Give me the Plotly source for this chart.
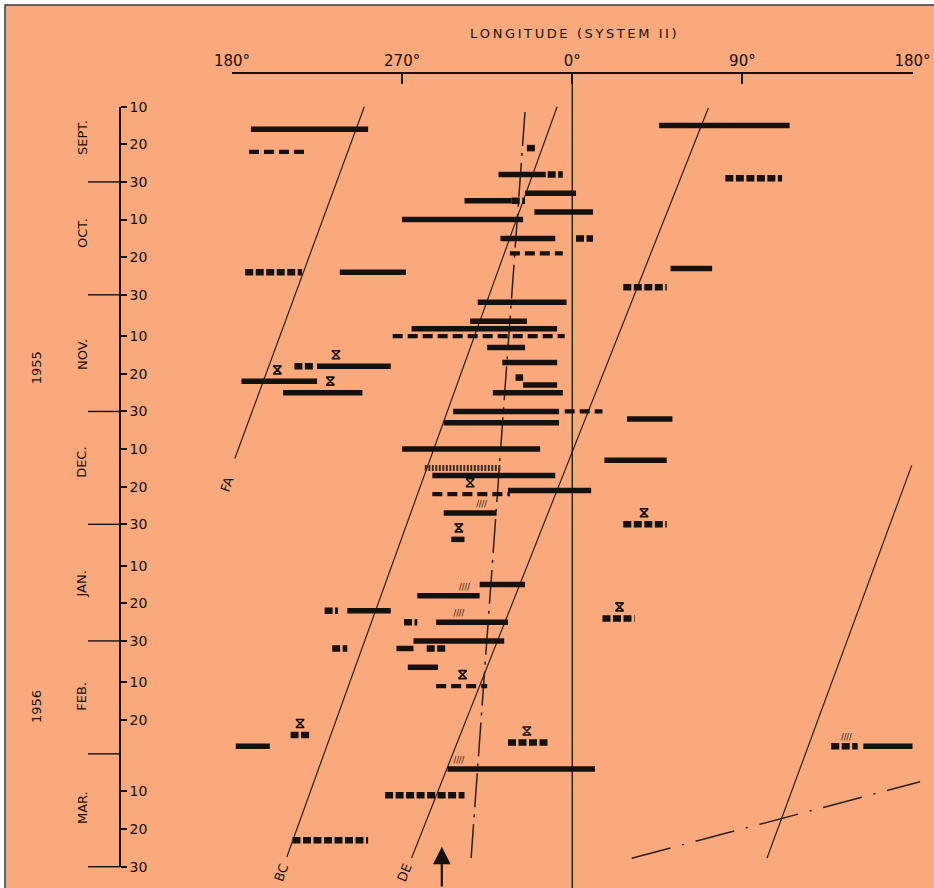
import datetime as dt
import plotly.graph_objects as go

# Longitudes (System II) are unwrapped onto one continuous scale:
# 180° -> 270° -> 0° (=360) -> 90° (=450) -> 180° (=540)

# ---- solid bars: night of observation, longitude span ----
SOLID_DATES = ["1955-09-16", "1955-09-15", "1955-09-28", "1955-10-03", "1955-10-05",
               "1955-10-08", "1955-10-10", "1955-10-15", "1955-10-23", "1955-10-24",
               "1955-11-01", "1955-11-06", "1955-11-08", "1955-11-13", "1955-11-17",
               "1955-11-18", "1955-11-22", "1955-11-23", "1955-11-25", "1955-11-25",
               "1955-11-30", "1955-12-02", "1955-12-03", "1955-12-10", "1955-12-13",
               "1955-12-17", "1955-12-21", "1955-12-27", "1956-01-03", "1956-01-15",
               "1956-01-18", "1956-01-22", "1956-01-25", "1956-01-30", "1956-02-01",
               "1956-02-06", "1956-02-27", "1956-02-27", "1956-03-04"]
SOLID_LON0 = [190, 406, 321, 335, 303, 340, 270, 322, 412, 237,
              310, 306, 275, 315, 323, 225, 185, 334, 207, 318,
              297, 389, 292, 270, 377, 286, 326, 292, 296, 311,
              278, 241, 288, 276, 267, 273, 182, 514, 294]
SOLID_LON1 = [252, 475, 346, 362, 328, 371, 334, 351, 434, 272,
              357, 336, 352, 335, 352, 264, 225, 352, 249, 355,
              353, 413, 353, 343, 410, 351, 370, 320, 303, 335,
              311, 264, 326, 324, 276, 289, 200, 540, 372]

# ---- dashed bars ----
DASH_DATES = ["1955-09-22", "1955-10-19", "1955-11-10", "1955-11-30", "1955-12-22", "1956-02-11"]
DASH_LON0 = [189, 327, 265, 356, 286, 288]
DASH_LON1 = [219, 355, 356, 376, 327, 315]

# ---- heavy dotted bars ----
DOT_DATES = ["1955-09-21", "1955-09-28", "1955-09-29", "1955-10-05", "1955-10-15",
             "1955-10-24", "1955-10-28", "1955-11-18", "1955-11-21", "1955-12-30",
             "1956-01-22", "1956-01-24", "1956-01-25", "1956-02-01", "1956-02-01",
             "1956-02-24", "1956-02-26", "1956-02-27", "1956-03-11", "1956-03-23"]
DOT_LON0 = [336, 347, 441, 328, 362, 187, 387, 213, 330, 387,
            229, 376, 271, 233, 283, 211, 326, 497, 261, 212]
DOT_LON1 = [341, 355, 471, 335, 371, 217, 410, 223, 334, 410,
            236, 393, 278, 241, 294, 221, 347, 511, 303, 252]

# ---- hatched bars ----
HATCH_DATES = ["1955-12-15"]
HATCH_LON0 = [282]
HATCH_LON1 = [322]

# ---- "X" marks above bars ----
XMARK_DATES = ["1955-11-18", "1955-11-22", "1955-11-25", "1955-12-22", "1955-12-30",
               "1956-01-03", "1956-01-24", "1956-02-11", "1956-02-24", "1956-02-26"]
XMARK_LONS = [235, 204, 232, 306, 398, 300, 385, 302, 216, 336]

# ---- small hatch tags above bars ----
TAG_DATES = ["1955-12-27", "1956-01-18", "1956-01-25", "1956-02-27", "1956-03-04"]
TAG_LONS = [312, 303, 300, 505, 300]

# ---- drift lines ----
FA_DATES, FA_LONS = ["1955-09-10", "1955-12-12 12:00"], [250, 181.5]
BC_DATES, BC_LONS = ["1955-09-10", "1956-03-27 10:00"], [352, 209]
DE_DATES, DE_LONS = ["1955-09-10 08:00", "1956-03-27 16:00"], [432, 275]
MID_DATES, MID_LONS = ["1955-09-11 10:00", "1956-03-27 16:00"], [335, 306.5]
RIGHT_DATES, RIGHT_LONS = ["1955-12-14 08:00", "1956-03-27 18:00"], [539.6, 463]
SHALLOW_DATES, SHALLOW_LONS = ["1956-03-27 18:00", "1956-03-07 10:00"], [391.5, 544]
LINE_LABELS = ["FA", "BC", "DE"]
LINE_LABEL_DATES = ["1955-12-19 12:00", "1956-03-31 16:00", "1956-03-31 16:00"]
LINE_LABEL_LONS = [177.5, 206.3, 271.5]
LINE_LABEL_ANGLES = [-70, -70, -68]
ARROW_LON, ARROW_DATE = 291, "1956-03-24 16:00"

# ---- axes ----
LON_TICKS = [180, 270, 360, 450, 540]
LON_TICK_TEXT = ["180°", "270°", "0°", "90°", "180°"]
DAY_TICKS = ["1955-09-10", "1955-09-20", "1955-09-30", "1955-10-10", "1955-10-20", "1955-10-30",
             "1955-11-10", "1955-11-20", "1955-11-30", "1955-12-10", "1955-12-20", "1955-12-30",
             "1956-01-10", "1956-01-20", "1956-01-30", "1956-02-10", "1956-02-20",
             "1956-03-10", "1956-03-20", "1956-03-30"]
DAY_TICK_TEXT = [d[-2:] for d in DAY_TICKS]
MONTH_END_TICKS = ["1955-09-30", "1955-10-30", "1955-11-30", "1955-12-30",
                   "1956-01-30", "1956-02-29", "1956-03-30"]
MONTH_NAMES = ["SEPT.", "OCT.", "NOV.", "DEC.", "JAN.", "FEB.", "MAR."]
MONTH_NAME_DATES = ["1955-09-18 08:00", "1955-10-13 14:00", "1955-11-15", "1955-12-13 16:00",
                    "1956-01-15", "1956-02-13 20:00", "1956-03-14 10:00"]
YEARS = ["1955", "1956"]
YEAR_DATES = ["1955-11-18 12:00", "1956-02-16 14:00"]
TITLE = "LONGITUDE (SYSTEM II)"

# ---- page geometry (pixels) ----
W, H = 934, 888
X_LEFT_PX, X_RIGHT_PX = 232.0, 912.5     # 180° .. 180°(540)
Y_TOP_PX, Y_BOT_PX = 106.7, 866.7        # first and last day ticks
Y_AXIS_PX = 120.0
X_AXIS_PX = 73.0
INK = "#15110e"
THIN = "#2a201a"
BG = "#faa97d"

def d(s):
    return dt.datetime.fromisoformat(s)

T0, T1 = d(DAY_TICKS[0]), d(DAY_TICKS[-1])
deg_per_px = (LON_TICKS[-1] - LON_TICKS[0]) / (X_RIGHT_PX - X_LEFT_PX)
x_range = [LON_TICKS[0] - X_LEFT_PX * deg_per_px, LON_TICKS[-1] + (W - X_RIGHT_PX) * deg_per_px]
day_per_px = (T1 - T0).total_seconds() / 86400 / (Y_BOT_PX - Y_TOP_PX)
y_top = T0 - dt.timedelta(days=Y_TOP_PX * day_per_px)
y_bot = T1 + dt.timedelta(days=(H - Y_BOT_PX) * day_per_px)

def px_days(p):
    return dt.timedelta(days=p * day_per_px)

def spaced(s):
    # thin spaces between letters for the wide lettering of the axis title
    return "\u2009".join(s)

fig = go.Figure()

def bars(dates, lon0, lon1, width, dash, color=INK):
    xs, ys = [], []
    for s, a, b in zip(dates, lon0, lon1):
        xs += [a, b, None]
        ys += [d(s), d(s), None]
    fig.add_trace(go.Scatter(x=xs, y=ys, mode="lines", connectgaps=False,
                             line=dict(color=color, width=width, dash=dash),
                             hoverinfo="skip", showlegend=False))

def line(dates, lons, dash="solid", width=1.2):
    fig.add_trace(go.Scatter(x=lons, y=[d(s) for s in dates], mode="lines",
                             line=dict(color=THIN, width=width, dash=dash),
                             hoverinfo="skip", showlegend=False))

# drift lines
line(FA_DATES, FA_LONS)
line(BC_DATES, BC_LONS)
line(DE_DATES, DE_LONS)
line(RIGHT_DATES, RIGHT_LONS)
line(MID_DATES, MID_LONS, dash="34px,7px,3px,7px", width=1.5)
line(SHALLOW_DATES, SHALLOW_LONS, dash="40px,12px,2px,12px", width=1.5)

# observation bars
bars(SOLID_DATES, SOLID_LON0, SOLID_LON1, 5.5, "solid")
bars(DASH_DATES, DASH_LON0, DASH_LON1, 4.2, "10px,5px")
bars(DOT_DATES, DOT_LON0, DOT_LON1, 6.5, "8px,2.5px")
bars(HATCH_DATES, HATCH_LON0, HATCH_LON1, 6, "2px,1.5px", color="#3a2c24")

# X marks sit just above their bars
fig.add_trace(go.Scatter(x=XMARK_LONS, y=[d(s) - px_days(11.5) for s in XMARK_DATES],
                         mode="markers", hoverinfo="skip", showlegend=False,
                         marker=dict(symbol="hourglass-open", size=8, color=INK,
                                     line=dict(color=INK, width=1.6))))
fig.add_trace(go.Scatter(x=TAG_LONS, y=[d(s) - px_days(8) for s in TAG_DATES],
                         mode="text", text=["////"] * len(TAG_LONS), hoverinfo="skip",
                         showlegend=False,
                         textfont=dict(family="DejaVu Sans", size=8, color=INK)))

# dummy trace so the framed axes get drawn
fig.add_trace(go.Scatter(x=[LON_TICKS[0]], y=[T0], xaxis="x2", yaxis="y2", mode="markers",
                         marker=dict(opacity=0), hoverinfo="skip", showlegend=False))

shapes = [
    dict(type="rect", xref="paper", yref="paper", x0=5 / W, x1=1.01, y0=-0.01, y1=1 - 5 / H,
         fillcolor=BG, line=dict(color="#3b3b3b", width=1.5), layer="below"),
    dict(type="line", xref="x", yref="paper", x0=360, x1=360, y0=0, y1=1 - X_AXIS_PX / H,
         line=dict(color=INK, width=1.3)),
]
for s in MONTH_END_TICKS:
    shapes.append(dict(type="line", xref="paper", yref="y", x0=88 / W, x1=Y_AXIS_PX / W,
                       y0=d(s), y1=d(s), line=dict(color=INK, width=1.4)))

font = "DejaVu Sans"
ann = []
for name, s in zip(MONTH_NAMES, MONTH_NAME_DATES):
    ann.append(dict(xref="paper", yref="y", x=82 / W, y=d(s), text=name, showarrow=False,
                    xanchor="center", yanchor="middle", textangle=-90,
                    font=dict(family=font, size=13, color=INK)))
for name, s in zip(YEARS, YEAR_DATES):
    ann.append(dict(xref="paper", yref="y", x=36 / W, y=d(s), text=name, showarrow=False,
                    xanchor="center", yanchor="middle", textangle=-90,
                    font=dict(family=font, size=13, color=INK)))
for name, s, lon, ang in zip(LINE_LABELS, LINE_LABEL_DATES, LINE_LABEL_LONS, LINE_LABEL_ANGLES):
    ann.append(dict(xref="x", yref="y", x=lon, y=d(s), text=name, showarrow=False,
                    xanchor="center", yanchor="middle", textangle=ang,
                    font=dict(family=font, size=13, color=INK)))
ann.append(dict(xref="paper", yref="paper", x=573 / W, y=1 - 33 / H, text=spaced(TITLE),
                showarrow=False, xanchor="center", yanchor="middle",
                font=dict(family=font, size=13, color=INK)))
ann.append(dict(xref="x", yref="y", x=ARROW_LON, y=d(ARROW_DATE), ax=0, ay=44, text="",
                showarrow=True, arrowhead=2, arrowsize=1.6, arrowwidth=2.2, arrowcolor=INK))

fig.update_layout(
    width=W, height=H, margin=dict(l=0, r=0, t=0, b=0, pad=0, autoexpand=False),
    paper_bgcolor="white", plot_bgcolor="rgba(0,0,0,0)",
    shapes=shapes, annotations=ann,
    xaxis=dict(range=x_range, visible=False, domain=[0, 1], fixedrange=True, automargin=False),
    yaxis=dict(type="date", range=[y_bot, y_top], visible=False, domain=[0, 1], fixedrange=True,
               automargin=False),
    xaxis2=dict(domain=[X_LEFT_PX / W, X_RIGHT_PX / W], range=[LON_TICKS[0], LON_TICKS[-1]],
                anchor="free", position=1 - X_AXIS_PX / H, side="top", automargin=False,
                tickvals=LON_TICKS, ticktext=LON_TICK_TEXT, ticks="inside", ticklen=10,
                tickwidth=1.5, tickcolor=INK, showline=True, linecolor=INK, linewidth=1.5,
                showgrid=False, zeroline=False,
                tickfont=dict(family=font, size=15, color=INK)),
    yaxis2=dict(domain=[1 - Y_BOT_PX / H, 1 - Y_TOP_PX / H], type="date", range=[T1, T0],
                anchor="free", position=Y_AXIS_PX / W, side="right", automargin=False,
                tickvals=[d(s) for s in DAY_TICKS], ticktext=DAY_TICK_TEXT,
                ticks="outside", ticklen=6, tickwidth=1.5, tickcolor=INK,
                showline=True, linecolor=INK, linewidth=1.6, showgrid=False, zeroline=False,
                tickfont=dict(family=font, size=14, color=INK)),
)

fig.write_html("out.html", post_script="document.body.style.margin='0';")
